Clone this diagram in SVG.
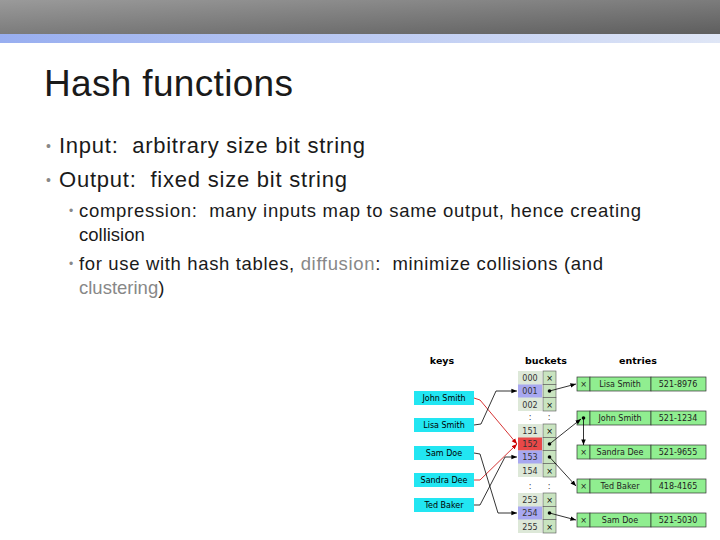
<svg xmlns="http://www.w3.org/2000/svg" width="720" height="540" viewBox="0 0 720 540">
<defs>
<linearGradient id="hd" x1="0" y1="0" x2="1" y2="1"><stop offset="0" stop-color="#9a9a9a"/><stop offset="1" stop-color="#5e5e5e"/></linearGradient>
<linearGradient id="bd" x1="0" y1="0" x2="1" y2="0"><stop offset="0" stop-color="#98aef0"/><stop offset="1" stop-color="#dfe6f6"/></linearGradient>
<marker id="ab" viewBox="0 0 10 10" refX="10" refY="5" markerWidth="7" markerHeight="7" orient="auto"><path d="M0,1 L10,5 L0,9z" fill="#000"/></marker>
<marker id="ar" viewBox="0 0 10 10" refX="10" refY="5" markerWidth="7" markerHeight="7" orient="auto"><path d="M0,1 L10,5 L0,9z" fill="#c00"/></marker>
</defs>
<style>
.t{font-family:"Liberation Sans",Arial,sans-serif;white-space:pre}
.m{fill:#888}
.f{font-family:"DejaVu Sans",sans-serif;font-size:8px;text-anchor:middle}
.h{font-family:"DejaVu Sans",sans-serif;font-size:9.5px;font-weight:bold;text-anchor:middle}
.k{fill:#22e6f2}
.b{fill:#dde8d8;stroke:none}
.c{fill:#c9e4c0;stroke:#555;stroke-width:0.6}
.e{fill:#90ee90;stroke:#333;stroke-width:0.7}
.lb{stroke:#000;stroke-width:0.8;fill:none}
.lr{stroke:#c00;stroke-width:0.8;fill:none}
</style>
<rect x="0" y="0" width="720" height="34" fill="url(#hd)"/>
<rect x="0" y="34" width="720" height="9" fill="url(#bd)"/>
<text class="t" x="44" y="96" font-size="37" fill="#1a1a1a" textLength="249">Hash functions</text>
<g class="t" fill="#1a1a1a">
<text class="m" x="46" y="151" font-size="14">•</text>
<text x="59" y="153" font-size="22" textLength="306" xml:space="preserve">Input:  arbitrary size bit string</text>
<text class="m" x="46" y="185" font-size="14">•</text>
<text x="59" y="187" font-size="22" textLength="288" xml:space="preserve">Output:  fixed size bit string</text>
<text class="m" x="69" y="215" font-size="12">•</text>
<text x="79" y="217" font-size="18.5" textLength="562" xml:space="preserve">compression:  many inputs map to same output, hence creating</text>
<text x="79" y="241" font-size="18.5">collision</text>
<text class="m" x="69" y="268" font-size="12">•</text>
<text x="79" y="270" font-size="18.5" textLength="524" xml:space="preserve">for use with hash tables, <tspan fill="#888">diffusion</tspan>:  minimize collisions (and</text>
<text x="79" y="294" font-size="18.5"><tspan fill="#888">clustering</tspan>)</text>
</g>
<g id="headers">
<text class="h" x="442" y="364">keys</text><text class="h" x="546" y="364">buckets</text><text class="h" x="638" y="364">entries</text>
</g>
<g id="keys">
<rect class="k" x="414" y="391" width="60" height="14"/><text class="f" x="444" y="401">John Smith</text>
<rect class="k" x="414" y="418" width="60" height="14"/><text class="f" x="444" y="428">Lisa Smith</text>
<rect class="k" x="414" y="446" width="60" height="14"/><text class="f" x="444" y="456">Sam Doe</text>
<rect class="k" x="414" y="473" width="60" height="14"/><text class="f" x="444" y="483">Sandra Dee</text>
<rect class="k" x="414" y="498" width="60" height="14"/><text class="f" x="444" y="508">Ted Baker</text>
</g>
<g id="buckets">
<rect class="b" x="518" y="371" width="24" height="40"/>
<rect x="518" y="384.5" width="24" height="13" fill="#a8a8f0"/>
<rect class="b" x="518" y="424" width="24" height="53"/>
<rect x="518" y="437.5" width="24" height="13" fill="#e84848"/>
<rect x="518" y="450.5" width="24" height="13" fill="#a8a8f0"/>
<rect class="b" x="518" y="493" width="24" height="40"/>
<rect x="518" y="506.5" width="24" height="13" fill="#a8a8f0"/>
<g class="f" fill="#333">
<text x="530" y="381">000</text><text x="530" y="394">001</text><text x="530" y="408">002</text>
<text x="530" y="434">151</text><text x="530" y="447">152</text><text x="530" y="460">153</text><text x="530" y="474">154</text>
<text x="530" y="503">253</text><text x="530" y="516">254</text><text x="530" y="530">255</text>
<text x="530" y="420">:</text><text x="549" y="420">:</text><text x="530" y="489">:</text><text x="549" y="489">:</text>
</g>
<rect class="c" x="543" y="371" width="13" height="13.5"/><rect class="c" x="543" y="384.5" width="13" height="13"/><rect class="c" x="543" y="397.5" width="13" height="13.5"/>
<rect class="c" x="543" y="424" width="13" height="13.5"/><rect class="c" x="543" y="437.5" width="13" height="13"/><rect class="c" x="543" y="450.5" width="13" height="13"/><rect class="c" x="543" y="463.5" width="13" height="13.5"/>
<rect class="c" x="543" y="493" width="13" height="13.5"/><rect class="c" x="543" y="506.5" width="13" height="13"/><rect class="c" x="543" y="519.5" width="13" height="13.5"/>
<g class="f"><text x="549.5" y="381">×</text><text x="549.5" y="408">×</text><text x="549.5" y="434">×</text><text x="549.5" y="474">×</text><text x="549.5" y="503">×</text><text x="549.5" y="530">×</text></g>
<g fill="#000"><circle cx="549.5" cy="391" r="1.8"/><circle cx="549.5" cy="444" r="1.8"/><circle cx="549.5" cy="457" r="1.8"/><circle cx="549.5" cy="513" r="1.8"/></g>
</g>
<g id="entries">
<rect class="e" x="577" y="377" width="13" height="14"/><rect class="e" x="590" y="377" width="61" height="14"/><rect class="e" x="651" y="377" width="55" height="14"/>
<rect class="e" x="577" y="411" width="13" height="14"/><rect class="e" x="590" y="411" width="61" height="14"/><rect class="e" x="651" y="411" width="55" height="14"/>
<rect class="e" x="577" y="445" width="13" height="14"/><rect class="e" x="590" y="445" width="61" height="14"/><rect class="e" x="651" y="445" width="55" height="14"/>
<rect class="e" x="577" y="479" width="13" height="14"/><rect class="e" x="590" y="479" width="61" height="14"/><rect class="e" x="651" y="479" width="55" height="14"/>
<rect class="e" x="577" y="513" width="13" height="14"/><rect class="e" x="590" y="513" width="61" height="14"/><rect class="e" x="651" y="513" width="55" height="14"/>
<g class="f" fill="#222">
<text x="583.5" y="387">×</text><text x="620" y="387">Lisa Smith</text><text x="678" y="387">521-8976</text>
<text x="620" y="421">John Smith</text><text x="678" y="421">521-1234</text>
<text x="583.5" y="455">×</text><text x="620" y="455">Sandra Dee</text><text x="678" y="455">521-9655</text>
<text x="583.5" y="489">×</text><text x="620" y="489">Ted Baker</text><text x="678" y="489">418-4165</text>
<text x="583.5" y="523">×</text><text x="620" y="523">Sam Doe</text><text x="678" y="523">521-5030</text>
</g>
<circle cx="583.5" cy="418" r="1.8" fill="#000"/>
</g>
<g id="connectors">
<path class="lr" d="M474,398 L480,400 L517,444" marker-end="url(#ar)"/>
<path class="lr" d="M474,480 L480,480 L517,444" marker-end="url(#ar)"/>
<path class="lb" d="M474,425 L481,424 L496,391 L517,391" marker-end="url(#ab)"/>
<path class="lb" d="M474,453 L480,454 L498,513 L517,513" marker-end="url(#ab)"/>
<path class="lb" d="M474,505 L480,505 L505,457 L517,457" marker-end="url(#ab)"/>
<path class="lb" d="M549.5,391 L576,384" marker-end="url(#ab)"/>
<path class="lb" d="M549.5,444 L581,419" marker-end="url(#ab)"/>
<path class="lb" d="M583.5,418 L583.5,445" marker-end="url(#ab)"/>
<path class="lb" d="M549.5,457 L576,486" marker-end="url(#ab)"/>
<path class="lb" d="M549.5,513 L576,520" marker-end="url(#ab)"/>
</g>
</svg>
